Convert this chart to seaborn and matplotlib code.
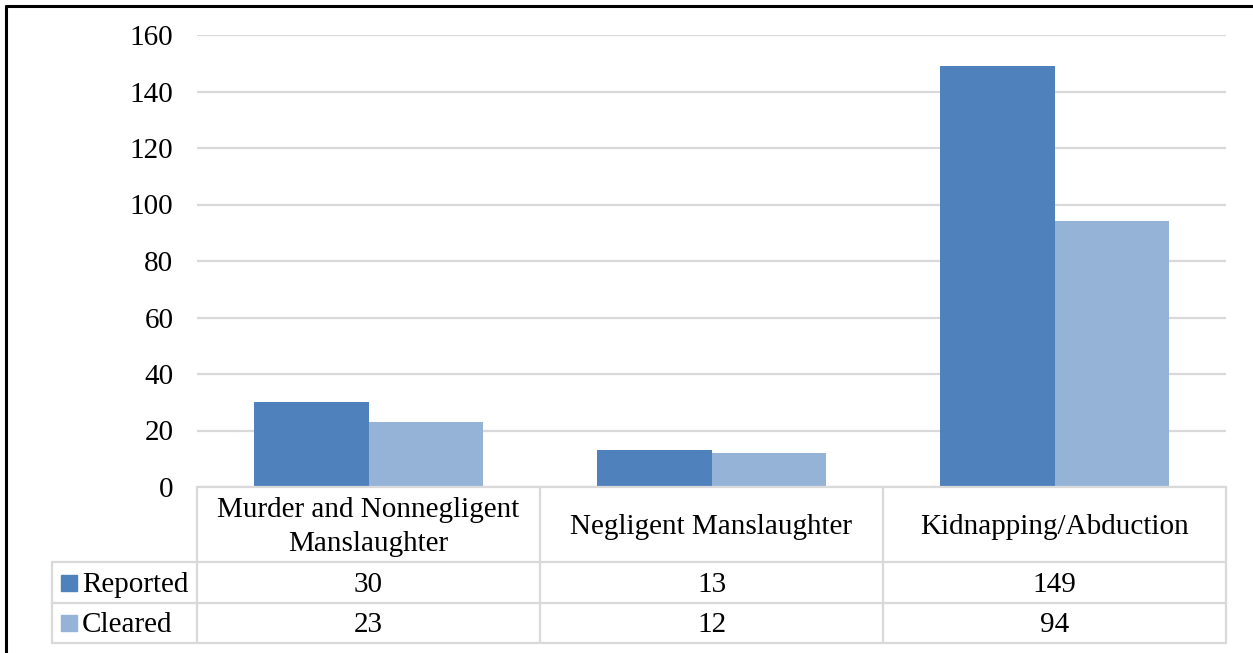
import pandas as pd
import matplotlib.pyplot as plt
import seaborn as sns
from matplotlib.lines import Line2D
from matplotlib.patches import Rectangle
from matplotlib.transforms import blended_transform_factory

# --- DATA ---
categories = ["Murder and Nonnegligent\nManslaughter", "Negligent Manslaughter", "Kidnapping/Abduction"]
series = ["Reported", "Cleared"]
reported = [30, 13, 149]
cleared = [23, 12, 94]
y_ticks = [0, 20, 40, 60, 80, 100, 120, 140, 160]

COLORS = {"Reported": "#4F81BD", "Cleared": "#95B3D7"}
GRID = "#D9D9D9"
FONT = 21

df = pd.DataFrame({
    "category": categories * 2,
    "series": ["Reported"] * 3 + ["Cleared"] * 3,
    "value": reported + cleared,
})

sns.set_style("white")
plt.rcParams["font.family"] = ["Liberation Serif", "DejaVu Serif"]
plt.rcParams["text.color"] = "black"
plt.rcParams["ytick.color"] = "black"

W, H = 1253, 653
fig = plt.figure(figsize=(W / 100, H / 100), dpi=100)
ax = fig.add_axes([197 / W, 1 - 487 / H, (1226 - 197) / W, (487 - 35) / H])

sns.barplot(data=df, x="category", y="value", hue="series", hue_order=series,
            palette=COLORS, width=0.667, saturation=1, linewidth=0,
            ax=ax, legend=False)

ax.set_ylim(0, 160)
ax.set_xlim(-0.5, 2.5)
ax.set_yticks(y_ticks)
ax.set_yticklabels([str(t) for t in y_ticks], fontsize=FONT, color="black")
ax.tick_params(axis="y", length=0, pad=17)
ax.set_xticks([])
ax.set_xlabel("")
ax.set_ylabel("")
for s in ax.spines.values():
    s.set_visible(False)
ax.yaxis.grid(True, color=GRID, linewidth=1.6)
ax.set_axisbelow(True)

# --- data table below the plot ---
tr = blended_transform_factory(ax.transData, ax.transAxes)
ph = (487 - 35)
y_head = -(562 - 487) / ph
y_rep = -(603 - 487) / ph
y_clr = -(643 - 487) / ph
x_left = -0.5 - (197 - 52) / 343
nudge = 2.5 / ph  # small downward shift so text sits like the original

def hline(x0, x1, y):
    ax.add_line(Line2D([x0, x1], [y, y], transform=tr, color=GRID, lw=1.6, clip_on=False))

def vline(x, y0, y1):
    ax.add_line(Line2D([x, x], [y0, y1], transform=tr, color=GRID, lw=1.6, clip_on=False))

hline(-0.5, 2.5, 0)
hline(x_left, 2.5, y_head)
hline(x_left, 2.5, y_rep)
hline(x_left, 2.5, y_clr)
for xe in [-0.5, 0.5, 1.5, 2.5]:
    vline(xe, 0, y_clr)
vline(x_left, y_head, y_clr)

for i, cat in enumerate(categories):
    ax.text(i, y_head / 2 - nudge, cat, transform=tr, ha="center", va="center",
            fontsize=FONT, linespacing=1.38)
    ax.text(i, (y_head + y_rep) / 2 - nudge, str(reported[i]), transform=tr,
            ha="center", va="center", fontsize=FONT)
    ax.text(i, (y_rep + y_clr) / 2 - nudge, str(cleared[i]), transform=tr,
            ha="center", va="center", fontsize=FONT)

# legend keys in the row labels
sq_w = 16 / 343
sq_h = 16 / ph
for name, y0, y1 in [("Reported", y_head, y_rep), ("Cleared", y_rep, y_clr)]:
    yc = (y0 + y1) / 2
    xs = x_left + 9 / 343
    ax.add_patch(Rectangle((xs, yc - sq_h / 2), sq_w, sq_h, transform=tr,
                           color=COLORS[name], clip_on=False))
    ax.text(xs + sq_w + 5 / 343, yc - nudge, name, transform=tr, ha="left", va="center",
            fontsize=FONT)

# outer frame (left and top edges visible)
fig.add_artist(Line2D([5.5 / W, 5.5 / W], [0, 1 - 5.5 / H], color="black", lw=2.2))
fig.add_artist(Line2D([5.5 / W, 1], [1 - 5.5 / H, 1 - 5.5 / H], color="black", lw=2.2))

fig.savefig("out.png", dpi=100)
